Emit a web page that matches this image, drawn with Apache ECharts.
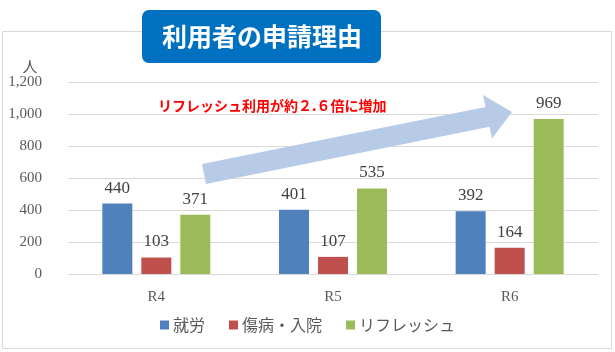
<!DOCTYPE html>
<html><head><meta charset="utf-8">
<script src="https://cdn.jsdelivr.net/npm/echarts@6/dist/echarts.min.js"></script>
<style>html,body{margin:0;padding:0;background:#fff}#c{width:615px;height:352px}</style>
</head><body><div id="c"></div>
<script>
var categories = ['R4', 'R5', 'R6'];
var seriesNames = ['就労', '傷病・入院', 'リフレッシュ'];
var work = [440, 401, 392];
var illness = [103, 107, 164];
var refresh = [371, 535, 969];
var yTicks = [0, 200, 400, 600, 800, 1000, 1200];
var colors = ['#4F81BD', '#C0504D', '#9BBB59'];

var chart = echarts.init(document.getElementById('c'));
var serif = '"Liberation Serif", "Times New Roman", serif';
var cjk = '"Noto Sans CJK JP", sans-serif';
function fmt(v){ return v.toLocaleString('en-US'); }
function mk(name, data, i){
  return {
    name: name, type: 'bar', data: data, barWidth: 30, barGap: '30%',
    itemStyle: { color: colors[i] },
    label: { show: true, position: 'top', distance: 7, color: '#404040',
      fontFamily: serif, fontSize: 17 }
  };
}
// arrow polygon (decoration)
var arrow = [[202,164],[485.5,107],[483,95],[512,112],[492,138.5],[489.5,126.7],[206,184]];
chart.setOption({
  animation: false,
  color: colors,
  graphic: [
    { type: 'rect', shape: { x: 2.5, y: 31.5, width: 609, height: 317 },
      style: { fill: 'none', stroke: '#D9D9D9', lineWidth: 1 }, z: -1 },
    { type: 'polygon', shape: { points: arrow },
      style: { fill: '#B7CBE6' }, z: 5 },
    { type: 'rect', shape: { x: 142, y: 10, width: 239, height: 53, r: 7 },
      style: { fill: '#0070C0' }, z: 10 },
    { type: 'text', x: 262, y: 36, z: 11,
      style: { text: '利用者の申請理由', fill: '#fff', font: 'bold 25px ' + cjk,
        align: 'center', verticalAlign: 'middle' } },
    { type: 'text', x: 30, y: 66, z: 11,
      style: { text: '人', fill: '#595959', font: '15px ' + cjk,
        align: 'center', verticalAlign: 'middle' } },
    { type: 'text', x: 158, y: 106, z: 11,
      style: { text: 'リフレッシュ利用が約２.６倍に増加', fill: '#FF0000', font: 'bold 14px ' + cjk,
        align: 'left', verticalAlign: 'middle' } }
  ],
  grid: { left: 68, right: 17, top: 82, bottom: 78, containLabel: false },
  legend: {
    data: seriesNames, bottom: 14, left: 'center', itemWidth: 9, itemHeight: 9,
    itemGap: 24, icon: 'rect',
    textStyle: { color: '#595959', fontSize: 16, fontFamily: cjk, padding: [0,0,0,-1] }
  },
  xAxis: {
    type: 'category', data: categories,
    axisLine: { lineStyle: { color: '#D9D9D9' } },
    axisTick: { show: false },
    axisLabel: { color: '#595959', fontFamily: serif, fontSize: 15, margin: 16 }
  },
  yAxis: {
    type: 'value', min: yTicks[0], max: yTicks[yTicks.length-1], interval: 200,
    axisLine: { show: false }, axisTick: { show: false },
    splitLine: { lineStyle: { color: '#D9D9D9' } },
    axisLabel: { color: '#595959', fontFamily: serif, fontSize: 15, margin: 26,
      formatter: function(v){ return fmt(v); } }
  },
  series: [mk(seriesNames[0], work, 0), mk(seriesNames[1], illness, 1), mk(seriesNames[2], refresh, 2)]
});
</script></body></html>
